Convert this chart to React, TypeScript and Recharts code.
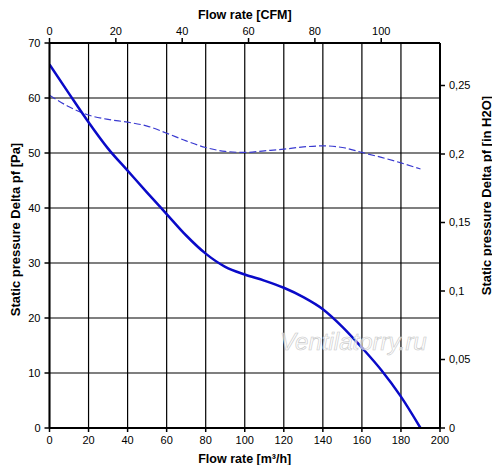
import React from "react";
import {
  LineChart,
  Line,
  XAxis,
  YAxis,
  CartesianGrid,
} from "recharts";

// flow rate in m3/h
const flowRate = [0, 10, 20, 30, 40, 50, 60, 70, 80, 90, 100, 110, 120, 130, 140, 150, 160, 170, 180, 190];
// static pressure [Pa], solid curve
const staticPressure = [66.1, 60.8, 55.6, 50.8, 46.8, 42.8, 38.9, 35.0, 31.7, 29.3, 27.9, 26.8, 25.5, 23.8, 21.6, 18.4, 14.6, 10.5, 5.7, 0];
// dashed curve
const dashedCurve = [60.5, 58.4, 56.9, 56.1, 55.6, 54.9, 53.6, 52.2, 51, 50.3, 50.1, 50.4, 50.7, 51.1, 51.3, 51, 50.1, 49.2, 48.2, 47.1];

const flowTicks = [0, 20, 40, 60, 80, 100, 120, 140, 160, 180, 200];
const paTicks = [0, 10, 20, 30, 40, 50, 60, 70];
const cfmTicks = [0, 20, 40, 60, 80, 100];
const inH2OTicks = [0, 0.05, 0.1, 0.15, 0.2, 0.25];

const M3H_PER_CFM = 1.699;
const PA_PER_INH2O = 249.09;

const chartData = flowRate.map((f, i) => ({
  flow: f,
  pressure: staticPressure[i],
  dashed: dashedCurve[i],
}));

const FONT = "'Liberation Sans', Arial, sans-serif";
const tickStyle = { fontSize: 11, fill: "#000", fontFamily: FONT };
const labelStyle = { fontSize: 12.5, fontWeight: 700, fill: "#000", fontFamily: FONT };
const vLabelStyle = { ...labelStyle, fontSize: 13 };

const App = () => {
  return (
    <div style={{ position: "relative", width: 492, height: 457 }}>
      <LineChart
        width={492}
        height={457}
        data={chartData}
        margin={{ top: 0, right: 0, bottom: 0, left: 0 }}
      >
        <CartesianGrid
          xAxisId="bottom"
          yAxisId="left"
          stroke="#000"
          strokeWidth={1.2}
          verticalValues={flowTicks}
          horizontalValues={paTicks}
        />
        <XAxis
          xAxisId="bottom"
          dataKey="flow"
          type="number"
          domain={[0, 200]}
          allowDataOverflow
          ticks={flowTicks}
          height={37}
          tick={tickStyle}
          tickSize={4}
          tickMargin={4}
          axisLine={{ stroke: "#000", strokeWidth: 2 }}
          tickLine={{ stroke: "#000", strokeWidth: 1.5 }}
          label={{ value: "Flow rate [m³/h]", position: "center", dy: 12, style: labelStyle }}
        />
        <XAxis
          xAxisId="top"
          orientation="top"
          dataKey="flow"
          type="number"
          domain={[0, 200]}
          allowDataOverflow
          ticks={cfmTicks.map((c) => c * M3H_PER_CFM)}
          tickFormatter={(v: number) => `${Math.round(v / M3H_PER_CFM)}`}
          height={35}
          tick={tickStyle}
          tickSize={5}
          tickMargin={3}
          axisLine={{ stroke: "#000", strokeWidth: 2 }}
          tickLine={{ stroke: "#000", strokeWidth: 1.5 }}
          label={{ value: "Flow rate [CFM]", position: "center", dy: -11, style: labelStyle }}
        />
        <YAxis
          yAxisId="left"
          type="number"
          domain={[0, 70]}
          allowDataOverflow
          ticks={paTicks}
          width={41.5}
          tick={tickStyle}
          tickSize={5}
          tickMargin={4}
          axisLine={{ stroke: "#000", strokeWidth: 2 }}
          tickLine={{ stroke: "#000", strokeWidth: 1.5 }}
          label={{
            value: "Static pressure Delta pf [Pa]",
            angle: -90,
            position: "center",
            dx: -13,
            dy: -6,
            style: vLabelStyle,
          }}
        />
        <YAxis
          yAxisId="right"
          orientation="right"
          type="number"
          domain={[0, 70]}
          allowDataOverflow
          ticks={inH2OTicks.map((t) => t * PA_PER_INH2O)}
          tickFormatter={(v: number) =>
            `${parseFloat((v / PA_PER_INH2O).toFixed(2))}`.replace(".", ",")
          }
          width={60}
          tick={tickStyle}
          tickSize={5}
          tickMargin={4}
          axisLine={{ stroke: "#000", strokeWidth: 2 }}
          tickLine={{ stroke: "#000", strokeWidth: 1.5 }}
          label={{
            value: "Static pressure Delta pf [in H2O]",
            angle: -90,
            position: "center",
            dx: 16,
            dy: -40,
            style: vLabelStyle,
          }}
        />
        <Line
          xAxisId="bottom"
          yAxisId="left"
          type="monotone"
          dataKey="dashed"
          stroke="#3a3ad0"
          strokeWidth={1.2}
          strokeDasharray="7 3"
          dot={false}
          isAnimationActive={false}
        />
        <Line
          xAxisId="bottom"
          yAxisId="left"
          type="monotone"
          dataKey="pressure"
          stroke="#0a0ac8"
          strokeWidth={2.5}
          dot={false}
          isAnimationActive={false}
        />
      </LineChart>
      <div
        style={{
          position: "absolute",
          left: 272,
          top: 320,
          fontFamily: FONT,
          fontStyle: "italic",
          fontSize: 24,
          color: "rgba(255,255,255,0.6)",
          WebkitTextStroke: "0.6px #c8c8c8",
          pointerEvents: "none",
        }}
      >
        Ventilatorry.ru
      </div>
    </div>
  );
};

export default App;
